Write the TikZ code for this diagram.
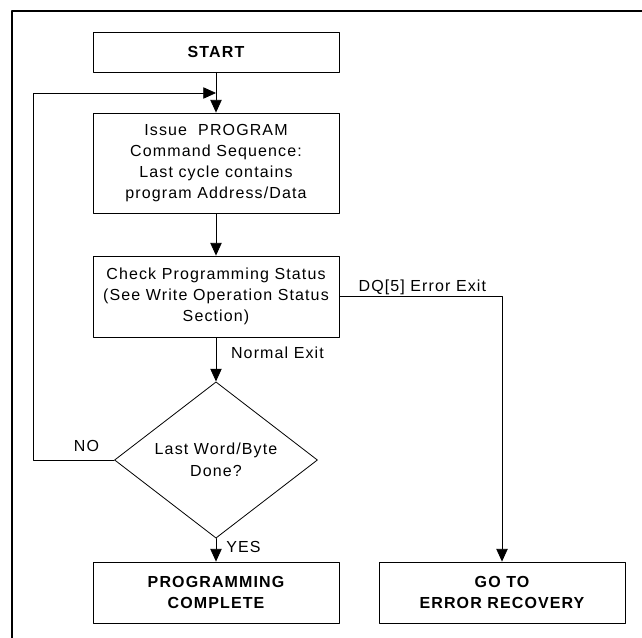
\documentclass[tikz,border=0pt]{standalone}
\usepackage{fontspec}
\setmainfont{Liberation Sans}[LetterSpace=7]
\usetikzlibrary{arrows.meta,shapes.geometric}

\tikzset{
  flowbox/.style={draw=black,line width=0.6pt,minimum width=184.5pt,inner sep=0pt,align=center,font=\fontsize{12}{15.9}\selectfont},
  boldbox/.style={flowbox,font=\fontsize{12}{15.9}\selectfont\bfseries},
  testbox/.style={draw=black,line width=0.6pt,diamond,minimum width=152.25pt,minimum height=91.5pt,inner sep=0pt,align=center,font=\fontsize{12}{16.5}\selectfont},
  flowlabel/.style={inner sep=0pt,font=\fontsize{12}{15}\selectfont},
}

\begin{document}
\begin{tikzpicture}[line cap=round,line join=round,>={Triangle[length=9.5pt,width=8.5pt]},x=0.75pt,y=-0.75pt]
    \useasboundingbox (0,0) rectangle (642,638);
    \draw[line width=1.2pt] (642,11) -- (12,11) -- (12,638);

    \node[boldbox,minimum height=30pt] (start) at (216,52) {START};
    \node[flowbox,minimum height=75pt] (issue) at (216,163) {Issue\ \ PROGRAM\\Command Sequence:\\Last cycle contains\\program Address/Data};
    \node[flowbox,minimum height=60.75pt] (check) at (216,296.5) {Check Programming Status\\(See Write Operation Status\\Section)};
    \node[testbox] (test) at (216,460) {Last Word/Byte\\Done?};
    \node[boldbox,minimum height=45.75pt] (done) at (216,592.5) {PROGRAMMING\\COMPLETE};
    \node[boldbox,minimum height=45.75pt] (recover) at (502,592.5) {GO TO\\ERROR RECOVERY};

    \coordinate (join) at (216,93);
    \coordinate (loop) at (33,460);

    \draw[line width=0.6pt,->] (start) -- (issue);
    \draw[line width=0.6pt,->] (issue) -- (check);
    \draw[line width=0.6pt,->] (check) -- node[flowlabel,pos=0.34,anchor=west,xshift=11pt] (normal) {Normal Exit} (test);
    \draw[line width=0.6pt,->] (test) -- node[flowlabel,pos=0.37,anchor=west,xshift=7.5pt] (yes) {YES} (done);
    \draw[line width=0.6pt,->] (test.west) -- node[flowlabel,pos=0.34,above=6pt] (no) {NO} (loop) |- (join);
    \draw[line width=0.6pt,->] (check.east) -| node[flowlabel,pos=0.255,above=1pt] (dq) {DQ[5] Error Exit} (recover);
\end{tikzpicture}
\end{document}
